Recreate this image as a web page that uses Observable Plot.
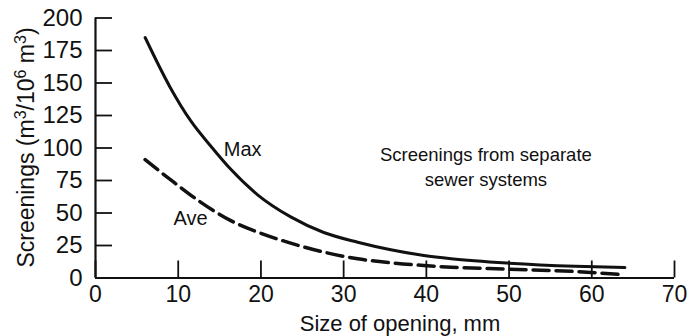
<!DOCTYPE html>
<html><head><meta charset="utf-8">
<script src="https://cdn.jsdelivr.net/npm/d3@7"></script>
<script src="https://cdn.jsdelivr.net/npm/@observablehq/plot@0.6"></script>
<style>body{margin:0;background:#fff;overflow:hidden}</style>
</head><body><div id="chart"></div>
<script>
// Max (solid) curve
const maxX = [6, 9, 11.5, 14, 16.3, 19.6, 23.6, 27.6, 31.7, 35.7, 39.7, 43, 50, 58, 64];
const maxY = [185, 147, 121, 101, 84, 64, 47, 35, 27.5, 21.7, 17.3, 14.8, 11.4, 9, 8];
// Ave (dashed) curve
const aveX = [6, 9.5, 12.7, 16.3, 19.6, 23.2, 27.6, 31.7, 35.7, 39.7, 43, 50, 58, 64];
const aveY = [91, 73.5, 58.4, 44.3, 35.3, 27.6, 19.9, 14.8, 11.7, 9.6, 8.3, 6.8, 5, 2.5];
// ticks
const xTicks = [0, 10, 20, 30, 40, 50, 60, 70];
const yTicks = [0, 25, 50, 75, 100, 125, 150, 175, 200];
// labels
const curveNames = ["Max", "Ave"];
const curveLabelX = [17.8, 11.5];
const curveLabelY = [98.5, 46];
const noteText = ["Screenings from separate\nsewer systems"];
const noteX = [47.2];
const noteY = [70.5];
const xLabel = "Size of opening, mm";

const maxData = maxX.map((x, i) => ({x, y: maxY[i]}));
const aveData = aveX.map((x, i) => ({x, y: aveY[i]}));
const labelData = curveNames.map((t, i) => ({t, x: curveLabelX[i], y: curveLabelY[i]}));
const noteData = noteText.map((t, i) => ({t, x: noteX[i], y: noteY[i]}));

const font = "Liberation Sans, Arial, sans-serif";
const W = 687, H = 336;
const mL = 95, mR = 13, mT = 17.5, mB = 58.5;

const chart = Plot.plot({
  width: W, height: H,
  marginLeft: mL, marginRight: mR, marginTop: mT, marginBottom: mB,
  style: {fontFamily: font, fontSize: "20px", background: "#fff", color: "#111", overflow: "visible"},
  x: {domain: [0, 70], label: null},
  y: {domain: [0, 200], label: null},
  marks: [
    Plot.ruleX([0], {y1: 0, y2: 200, stroke: "#111", strokeWidth: 2.2}),
    Plot.ruleY([0], {stroke: "#111", strokeWidth: 2.2}),
    Plot.axisY({ticks: yTicks, tickSize: -17, tickFormat: () => "", strokeWidth: 1.8, stroke: "#111", label: null}),
    Plot.axisY({ticks: yTicks, tickSize: 0, tickPadding: 13, fontSize: 24, fill: "#111", label: null}),
    Plot.axisX({ticks: xTicks, tickSize: -17, tickFormat: () => "", strokeWidth: 1.8, stroke: "#111", label: null}),
    Plot.axisX({ticks: xTicks, tickSize: 0, tickPadding: 8, fontSize: 23, fill: "#111", label: null}),
    Plot.line(maxData, {x: "x", y: "y", curve: "monotone-x", stroke: "#111", strokeWidth: 3}),
    Plot.line(aveData, {x: "x", y: "y", curve: "monotone-x", stroke: "#111", strokeWidth: 3.5, strokeDasharray: "16,7"}),
    Plot.text(labelData, {x: "x", y: "y", text: "t", fontSize: 20, fill: "#111", textAnchor: "middle"}),
    Plot.text(noteData, {x: "x", y: "y", text: "t", fontSize: 18.5, fill: "#111", textAnchor: "middle", lineAnchor: "bottom", lineHeight: 1.35})
  ]
});

document.getElementById("chart").appendChild(chart);

// axis titles with superscripts
const svg = d3.select(chart);
svg.append("text")
  .attr("x", 400)
  .attr("y", 331)
  .attr("text-anchor", "middle")
  .attr("font-size", 22)
  .attr("fill", "#111")
  .text(xLabel);

const yl = svg.append("text")
  .attr("transform", `translate(34,${(mT + (H - mB)) / 2}) rotate(-90)`)
  .attr("text-anchor", "middle")
  .attr("font-size", 23)
  .attr("fill", "#111");
const parts = [["Screenings (m", 0], ["3", 1], ["/10", 0], ["6", 1], [" m", 0], ["3", 1], [")", 0]];
parts.forEach(([t, sup]) => {
  yl.append("tspan").attr("font-size", sup ? 16 : 23).attr("baseline-shift", sup ? "8" : null).text(t);
});
</script>
</body></html>
